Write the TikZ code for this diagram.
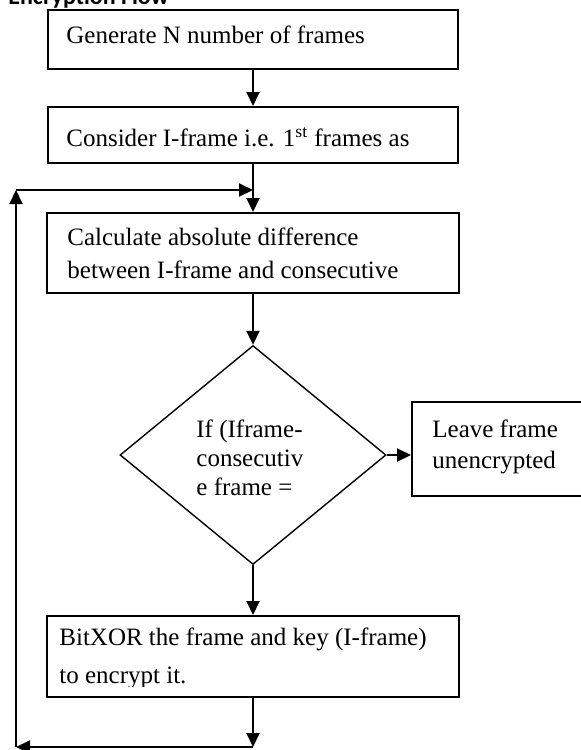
\documentclass[tikz,border=0pt]{standalone}
\usepackage{fontspec}
\setmainfont{Liberation Serif}
\newfontfamily\titlefont{Carlito}
\usetikzlibrary{positioning,shapes.geometric,arrows.meta}

\begin{document}
\begin{tikzpicture}[
  x=0.5pt, y=-0.5pt,
  box/.style={rectangle, draw, line width=1pt, inner sep=0pt},
  dec/.style={diamond, draw, line width=0.7pt, inner sep=0pt},
  txt/.style={anchor=base west, inner sep=0pt, align=left},
  arr/.style={line width=1pt, -{Triangle[length=7pt, width=6.5pt]}}
]
  \useasboundingbox (0,0) rectangle (581,750);
  \node[anchor=base west, inner sep=0pt, font=\titlefont\bfseries\fontsize{12}{14}\selectfont] (title) at (8,4) {Encryption Flow};
  % boxes
  \node[box, minimum width=205pt, minimum height=29.5pt] (gen) at (253,39.5) {};
  \node[box, minimum width=205pt, minimum height=28pt] (cons) at (253,135) {};
  \node[box, minimum width=206pt, minimum height=40pt] (calc) at (253,253) {};
  \node[dec, minimum width=133pt, minimum height=109.5pt] (test) at (253,455) {};
  \node[box, minimum width=89pt, minimum height=47pt] (leave) at (501,449) {};
  \node[box, minimum width=206pt, minimum height=40.5pt] (xor) at (253,656.5) {};
  % texts (anchored at the baseline of the last line)
  \node[txt, font=\fontsize{12.5}{15}\selectfont] (gen-t) at (66,43) {Generate N number of frames};
  \node[txt, font=\fontsize{12.5}{15}\selectfont] (cons-t) at (66,146) {Consider I-frame i.e. 1\textsuperscript{st} frames as};
  \node[txt, font=\fontsize{12.5}{16.5}\selectfont] (calc-t) at (67,278) {Calculate absolute difference\\between I-frame and consecutive};
  \node[txt, font=\fontsize{12.5}{14.5}\selectfont] (test-t) at (196,495) {If (Iframe-\\consecutiv\\e frame =};
  \node[txt, font=\fontsize{12.5}{15.5}\selectfont] (leave-t) at (432,468) {Leave frame\\unencrypted};
  \begin{scope}
    \clip (48,617) rectangle (458,686);
    \node[txt, font=\fontsize{12.5}{19}\selectfont] (xor-t) at (59,683) {BitXOR the frame and key (I-frame)\\to encrypt it.};
  \end{scope}
  % loop points
  \coordinate (join) at (253,190);
  \coordinate (back) at (253,747);
  \coordinate (corner) at (16,747);
  \coordinate (up) at (16,190);
  % arrows
  \draw[arr] (gen) -- (cons);
  \draw[arr] (cons) -- (calc);
  \draw[arr] (calc) -- (test);
  \draw[arr] (test.east) -- (test.east -| leave.west);
  \draw[arr] (test) -- (xor);
  \draw[arr] (xor) -- (back);
  \draw[arr] (back) -- (corner);
  \draw[arr] (corner) -- (up);
  \draw[arr] (up) -- (join);
\end{tikzpicture}
\end{document}
